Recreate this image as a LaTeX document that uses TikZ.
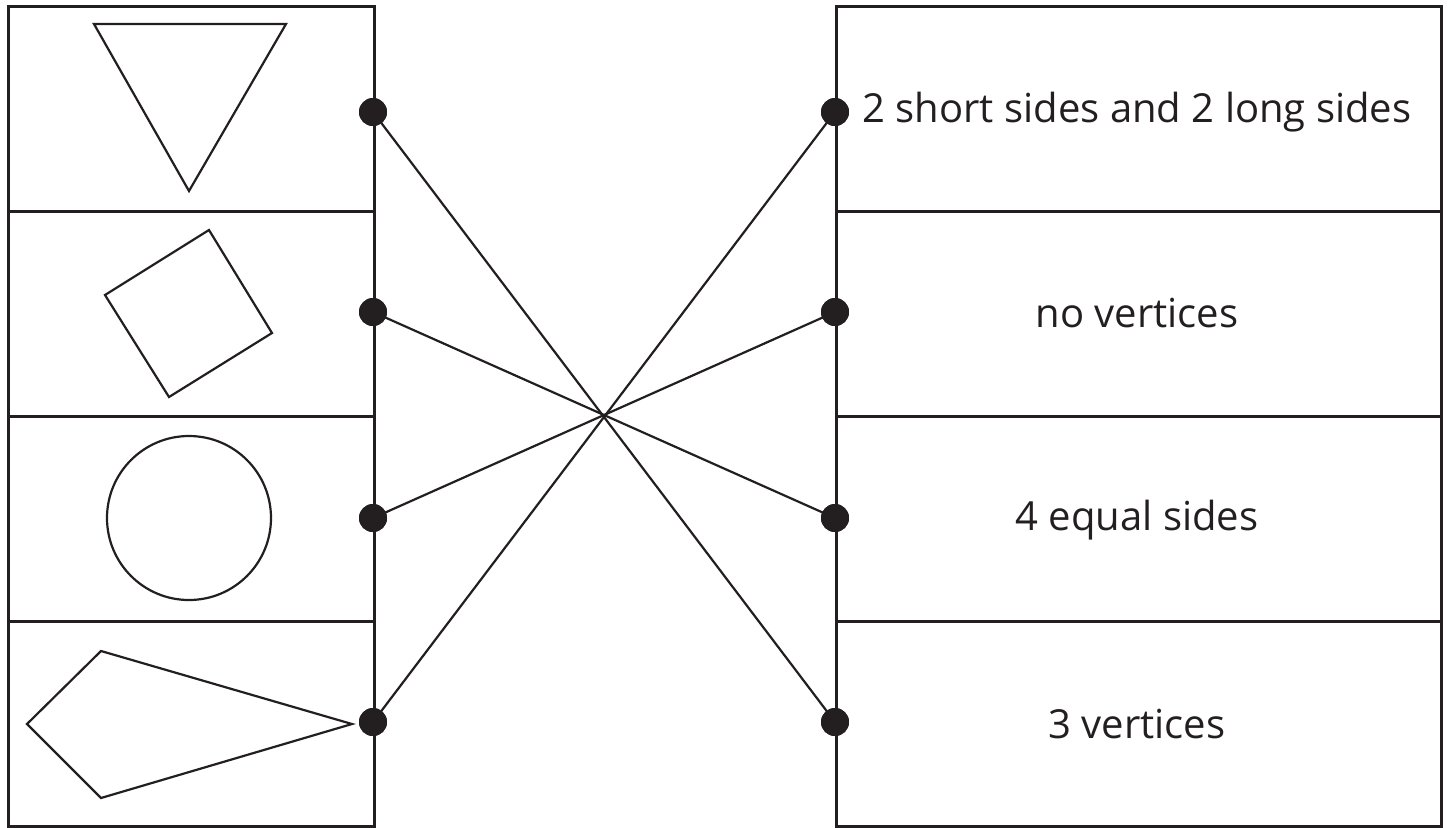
\documentclass[tikz,border=0pt]{standalone}
\usepackage{fontspec}
\setmainfont{Open Sans}
\definecolor{ink}{HTML}{231F20}
\begin{document}
\begin{tikzpicture}[x=0.5pt,y=-0.5pt,
  cell/.style={draw=ink,line width=1.3pt,minimum width=#1*0.5pt,minimum height=102.5pt,inner sep=0pt,anchor=north west},
  label/.style={text=ink,font=\fontsize{20}{24}\selectfont},
  shp/.style={draw=ink,line width=1.1pt,line join=miter},
  dot/.style={circle,fill=ink,minimum size=14pt,inner sep=0pt},
  link/.style={draw=ink,line width=1.1pt}]
\useasboundingbox (0,0) rectangle (1448,827);
% left cells
\node[cell=366] (L1) at (7,5) {};
\node[cell=366] (L2) at (7,210) {};
\node[cell=366] (L3) at (7,415) {};
\node[cell=366] (L4) at (7,620) {};
% right cells
\node[cell=605] (R1) at (835,5) {};
\node[cell=605] (R2) at (835,210) {};
\node[cell=605] (R3) at (835,415) {};
\node[cell=605] (R4) at (835,620) {};
% texts
\node[label] (T1) at (1137,112) {2 short sides and 2 long sides};
\node[label] (T2) at (1137,313) {no vertices};
\node[label] (T3) at (1137,520) {4 equal sides};
\node[label] (T4) at (1137,724) {3 vertices};
% shapes
\draw[shp] (94,24) -- (286,24) -- (189,191) -- cycle;
\draw[shp] (105,295) -- (209,230) -- (272,333) -- (169,397) -- cycle;
\draw[shp] (189,518) circle[radius=82];
\draw[shp] (101,651) -- (352,724) -- (101,798) -- (27,724) -- cycle;
% dots
\node[dot] (a1) at (373,112) {};
\node[dot] (a2) at (373,312) {};
\node[dot] (a3) at (373,518) {};
\node[dot] (a4) at (373,722) {};
\node[dot] (b1) at (835,112) {};
\node[dot] (b2) at (835,312) {};
\node[dot] (b3) at (835,518) {};
\node[dot] (b4) at (835,722) {};
% links
\draw[link] (a1.center) -- (b4.center);
\draw[link] (a2.center) -- (b3.center);
\draw[link] (a3.center) -- (b2.center);
\draw[link] (a4.center) -- (b1.center);
\foreach \n in {a1,a2,a3,a4,b1,b2,b3,b4}{\fill[ink] (\n) circle[radius=7pt];}
\end{tikzpicture}
\end{document}
